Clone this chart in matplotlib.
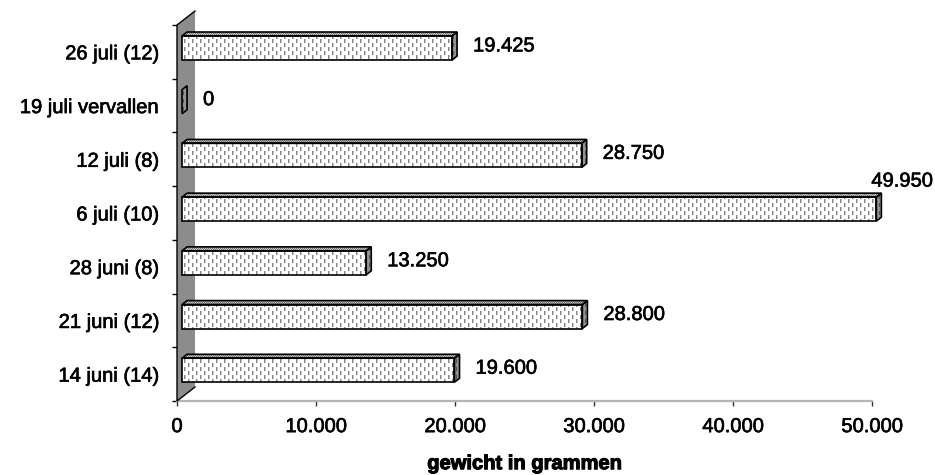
import numpy as np
import matplotlib
matplotlib.use("Agg")
import matplotlib.pyplot as plt
import matplotlib.patheffects as pe
from matplotlib.patches import Polygon
from matplotlib.lines import Line2D
from matplotlib.transforms import IdentityTransform

# ---- data ----
categories = ["14 juni (14)", "21 juni (12)", "28 juni (8)", "6 juli (10)",
              "12 juli (8)", "19 juli vervallen", "26 juli (12)"]
values = [19600, 28800, 13250, 49950, 28750, 0, 19425]
xticks = [0, 10000, 20000, 30000, 40000, 50000]
xlabel = "gewicht in grammen"


def nl_fmt(v):
    return f"{v:,}".replace(",", ".")


plt.rcParams["font.family"] = ["Liberation Sans", "DejaVu Sans"]
THICK = [pe.withStroke(linewidth=0.45, foreground="black")]

W, H = 935, 475
DPI = 100
fig = plt.figure(figsize=(W / DPI, H / DPI), dpi=DPI)
fig.patch.set_facecolor("white")
ax = fig.add_axes([177 / W, 74 / H, 695 / W, 376 / H])
ax.set_xlim(0, 50000)
ax.set_ylim(-0.5, len(categories) - 0.5)
ax.patch.set_visible(False)

ID = IdentityTransform()
D = np.array([18.0, 14.0])      # wall depth in pixels
FRONT, BACK = 0.28, 0.56        # bar depth placement
BH = 0.447                      # bar thickness (category units)
FS = 14.5


def P(x, y, k=0.0):
    return ax.transData.transform((x, y)) + k * D


# ---- textures ----
def tex(kind, x0, y0, w, h):
    gx = np.arange(x0, x0 + w)[None, :]
    gy = np.arange(y0, y0 + h)[:, None]
    gx, gy = np.broadcast_arrays(gx, gy)
    stag = (gy + 4 * ((gx // 4) % 2)) % 8 < 4
    if kind == "front":
        a = np.ones((h, w))
        a[(gx % 4 == 0) & stag] = 0.52
        a[(gx % 4 == 1) & stag] = 0.78
    elif kind == "top":
        a = np.full((h, w), 0.76)
        a[(gx + gy) % 2 == 0] = 0.48
    else:
        a = np.full((h, w), 0.58)
        a[(gx % 3 == 0) & stag] = 0.32
    return np.dstack([a, a, a])


def face(pts, kind, z=2):
    pts = np.asarray(pts)
    x0, y0 = np.floor(pts.min(axis=0)).astype(int) - 1
    x1, y1 = np.ceil(pts.max(axis=0)).astype(int) + 1
    w, h = max(x1 - x0, 1), max(y1 - y0, 1)
    im = fig.figimage(tex(kind, x0, y0, w, h), xo=x0, yo=y0, origin="lower", zorder=z)
    clip = Polygon(pts, closed=True, transform=ID)
    im.set_clip_path(clip)
    fig.add_artist(Polygon(pts, closed=True, fill=False, edgecolor="black",
                           linewidth=1.2, transform=ID, zorder=z + 0.5,
                           joinstyle="miter"))


# ---- wall ----
ymin, ymax = ax.get_ylim()
bl = P(0, ymin)
tl = P(0, ymax)
wall = [bl, tl, tl + D, bl + D]
fig.add_artist(Polygon(wall, closed=True, facecolor="#8c8c8c", edgecolor="none",
                       transform=ID, zorder=1))
edge = np.array([bl + D, bl, tl, tl + D])
fig.add_artist(Line2D(edge[:, 0], edge[:, 1], color="black", linewidth=1.0,
                      transform=ID, zorder=1.2))

# ---- bars ----
for i, v in enumerate(values):
    y0, y1 = i - BH / 2, i + BH / 2
    front = [P(0, y0, FRONT), P(v, y0, FRONT), P(v, y1, FRONT), P(0, y1, FRONT)]
    top = [P(0, y1, FRONT), P(v, y1, FRONT), P(v, y1, BACK), P(0, y1, BACK)]
    right = [P(v, y0, FRONT), P(v, y0, BACK), P(v, y1, BACK), P(v, y1, FRONT)]
    if v > 0:
        face(front, "front", 2)
        face(top, "top", 2)
    face(right, "right", 2)
    end = P(v, i, FRONT)
    if v >= 0.9 * ax.get_xlim()[1]:
        tx, ty = end[0] - 5, end[1] + 28
    else:
        tx, ty = end[0] + 21, end[1] + 2
    fig.text(tx, ty, nl_fmt(v), transform=ID, ha="left", va="center",
             fontsize=FS, color="black", zorder=5, path_effects=THICK)

# ---- axes styling ----
for s in ("top", "right", "left"):
    ax.spines[s].set_visible(False)
ax.spines["bottom"].set_color("#b4b4b4")
ax.spines["bottom"].set_linewidth(1.6)

ax.set_yticks(range(len(categories)))
ax.set_yticklabels(categories, fontsize=FS, path_effects=THICK)
ax.set_yticks(np.arange(-0.5, len(categories), 1.0), minor=True)
ax.tick_params(axis="y", which="major", length=0, pad=13)
ax.tick_params(axis="y", which="minor", length=3.6, width=1.0, color="black", direction="out")

ax.set_xticks(xticks)
ax.set_xticklabels([nl_fmt(t) for t in xticks], fontsize=FS, path_effects=THICK)
ax.tick_params(axis="x", which="major", length=3.6, width=1.0, color="#333333",
               direction="out", pad=8)
ax.set_xlabel(xlabel, fontsize=14.5, fontweight="bold", labelpad=13,
              path_effects=[pe.withStroke(linewidth=0.8, foreground="black")])

fig.savefig("out.png", dpi=DPI, facecolor="white")
